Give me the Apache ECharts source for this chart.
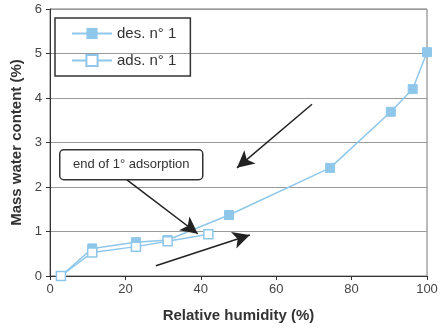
<!DOCTYPE html>
<html>
<head>
<meta charset="utf-8">
<script src="https://cdn.jsdelivr.net/npm/echarts@6/dist/echarts.min.js"></script>
<style>
html, body { margin: 0; padding: 0; background: #fff; }
#chart { width: 443px; height: 328px; }
</style>
</head>
<body>
<div id="chart"></div>
<script>
// desorption n° 1 (filled squares)
var desHumidity = [2.9, 11.2, 22.8, 31.2, 47.5, 74.3, 90.4, 96.2, 100];
var desWater = [0, 0.62, 0.76, 0.81, 1.37, 2.43, 3.69, 4.20, 5.03];
// adsorption n° 1 (open squares)
var adsHumidity = [2.9, 11.2, 22.8, 31.2, 42.0];
var adsWater = [0, 0.53, 0.66, 0.78, 0.94];
// arrows [x1, y1, x2, y2] in data units
var arrows = [
    [69.5, 3.86, 49.6, 2.43],
    [20.4, 2.16, 39.2, 0.95],
    [28.1, 0.23, 53.0, 0.92]
];

var chart = echarts.init(document.getElementById('chart'));
var blue = '#8fc7ea';

function pairs(xs, ys) {
    var out = [];
    for (var i = 0; i < xs.length; i++) out.push([xs[i], ys[i]]);
    return out;
}

var arrowData = arrows.map(function (a) {
    return [{ coord: [a[0], a[1]] }, { coord: [a[2], a[3]] }];
});

var option = {
    animation: false,
    textStyle: { fontFamily: 'Liberation Sans, Arial, sans-serif' },
    grid: { left: 50, right: 16, top: 9, bottom: 52, show: true, borderColor: '#777', borderWidth: 1 },
    legend: {
        orient: 'vertical',
        left: 55,
        top: 18,
        padding: [8, 14, 8, 16],
        borderColor: '#333',
        borderWidth: 1.5,
        itemWidth: 40,
        itemHeight: 14,
        itemGap: 12,
        textStyle: { fontSize: 15, color: '#333' },
        data: ['des. n° 1', 'ads. n° 1']
    },
    xAxis: {
        type: 'value',
        min: 0, max: 100, interval: 20,
        name: 'Relative humidity (%)',
        nameLocation: 'middle',
        nameGap: 32,
        nameTextStyle: { fontSize: 15, fontWeight: 'bold', color: '#333' },
        axisLine: { lineStyle: { color: '#333' } },
        axisTick: { length: 4, lineStyle: { color: '#333' } },
        axisLabel: { fontSize: 13, color: '#444', margin: 7 },
        splitLine: { show: false }
    },
    yAxis: {
        type: 'value',
        min: 0, max: 6, interval: 1,
        name: 'Mass water content (%)',
        nameLocation: 'middle',
        nameGap: 26,
        nameTextStyle: { fontSize: 15, fontWeight: 'bold', color: '#333' },
        axisLine: { show: true, lineStyle: { color: '#333' } },
        axisTick: { show: true, length: 4, lineStyle: { color: '#333' } },
        axisLabel: { fontSize: 13, color: '#444', margin: 8 },
        splitLine: { lineStyle: { color: '#999', width: 1 } }
    },
    graphic: [{
        type: 'group',
        left: 59,
        top: 149,
        children: [{
            type: 'rect',
            shape: { x: 0, y: 0, width: 143, height: 30, r: 4 },
            style: { fill: '#fff', stroke: '#333', lineWidth: 1.5 }
        }, {
            type: 'text',
            x: 71.5,
            y: 15,
            style: {
                text: 'end of 1° adsorption',
                fontSize: 13,
                fontFamily: 'Liberation Sans Narrow, Liberation Sans, Arial, sans-serif',
                fill: '#333',
                align: 'center',
                verticalAlign: 'middle'
            }
        }]
    }],
    series: [{
        name: 'des. n° 1',
        type: 'line',
        data: pairs(desHumidity, desWater),
        symbol: 'rect',
        symbolSize: 9,
        lineStyle: { color: blue, width: 1.5 },
        itemStyle: { color: blue, borderColor: blue },
        z: 3
    }, {
        name: 'ads. n° 1',
        type: 'line',
        data: pairs(adsHumidity, adsWater),
        symbol: 'rect',
        symbolSize: 9,
        showAllSymbol: true,
        lineStyle: { color: blue, width: 1.5 },
        itemStyle: { color: '#fff', borderColor: blue, borderWidth: 1.5 },
        z: 4,
        markLine: {
            silent: true,
            symbol: ['none', 'arrow'],
            symbolSize: [13, 17],
            label: { show: false },
            lineStyle: { color: '#222', width: 1.5, type: 'solid' },
            emphasis: { disabled: true },
            data: arrowData
        }
    }]
};

chart.setOption(option);
window.addEventListener('resize', function () {
    chart.resize();
});
</script>
</body>
</html>
